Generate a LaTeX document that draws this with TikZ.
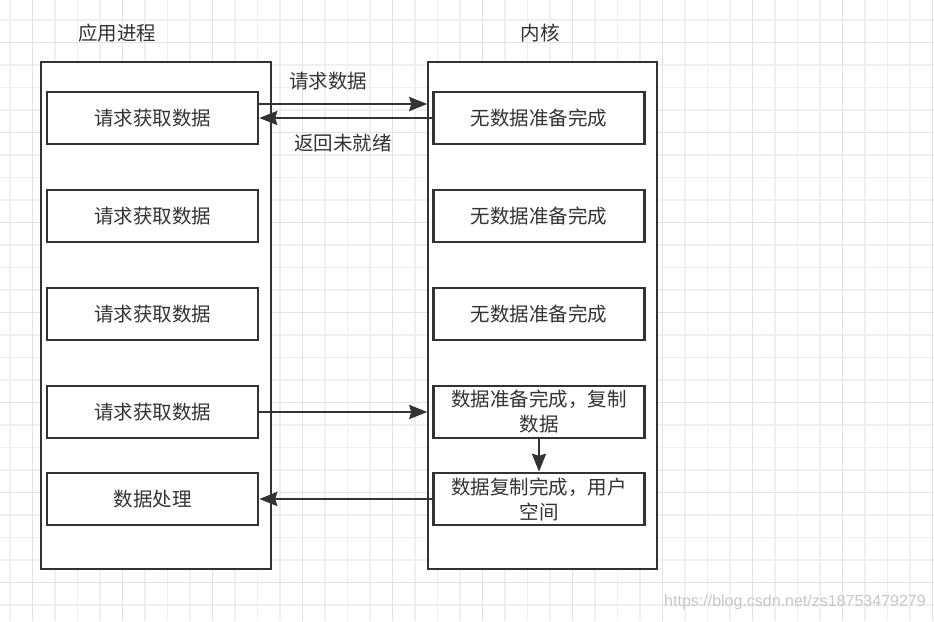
\documentclass[tikz,border=0pt]{standalone}
\usepackage{fontspec}
\setmainfont{Noto Sans CJK SC}
\newfontfamily\markfont{Liberation Sans}
\usetikzlibrary{arrows.meta}

\definecolor{ink}{HTML}{333333}
\definecolor{minorgrid}{HTML}{EFEFEF}
\definecolor{majorgrid}{HTML}{E2E2E2}

\begin{document}
\begin{tikzpicture}[x=1pt,y=-1pt,
 box/.style={draw=ink,line width=2.5pt,fill=white,minimum width=211pt,
   minimum height=52pt,inner sep=2pt,align=center,text=ink,
   font=\fontsize{19.5}{25}\selectfont},
 frame/.style={draw=ink,line width=2.5pt,fill=white},
 flow/.style={draw=ink,line width=2.5pt,-{Stealth[length=18pt,width=14pt,inset=2pt]}},
 title/.style={text=ink,font=\fontsize{19.5}{25}\selectfont},
 urlmark/.style={text=black!22,font=\markfont\fontsize{16}{18}\selectfont}]

\useasboundingbox (0,0) rectangle (934,621);
\fill[white] (0,0) rectangle (934,621);

% grid
\foreach \k in {0,...,41}
 \draw[minorgrid,line width=1.5pt] ({10.2+22.5*\k},0) -- ({10.2+22.5*\k},621);
\foreach \k in {1,...,27}
 \draw[minorgrid,line width=1.5pt] (0,{-2.7+22.5*\k}) -- (934,{-2.7+22.5*\k});
\foreach \k in {0,...,10}
 \draw[majorgrid,line width=1.5pt] ({32.7+90*\k},0) -- ({32.7+90*\k},621);
\foreach \k in {0,...,6}
 \draw[majorgrid,line width=1.5pt] (0,{42.3+90*\k}) -- (934,{42.3+90*\k});

\def\lx{152.5} \def\rx{539}

% two columns
\node[title] (app) at (117,33) {应用进程};
\node[title] (kern) at (540,33) {内核};
\draw[frame] (41,62) rectangle (271,569);
\draw[frame] (428,62) rectangle (657,569);

\foreach \i/\y in {1/118,2/216,3/314,4/412}
 \node[box] (l\i) at (\lx,\y) {请求获取数据};
\node[box] (l5) at (\lx,499) {数据处理};

\foreach \i/\y in {1/118,2/216,3/314}
 \node[box] (r\i) at (\rx,\y) {无数据准备完成};
\node[box] (r4) at (\rx,412) {数据准备完成，复制\\数据};
\node[box] (r5) at (\rx,499) {数据复制完成，用户\\空间};

% calls
\draw[flow] ([yshift=14pt]l1.east) -- ([yshift=14pt,xshift=-5pt]r1.west);
\draw[flow] (r1.west) -- (l1.east);
\node[title] (ask) at (328,81) {请求数据};
\node[title] (notready) at (343,143) {返回未就绪};
\draw[flow] (l4.east) -- ([xshift=-5pt]r4.west);
\draw[flow] (r4.south) -- (r5.north);
\draw[flow] (r5.west) -- (l5.east);

\node[urlmark] (mark) at (795,602) {https://blog.csdn.net/zs18753479279};
\end{tikzpicture}
\end{document}
